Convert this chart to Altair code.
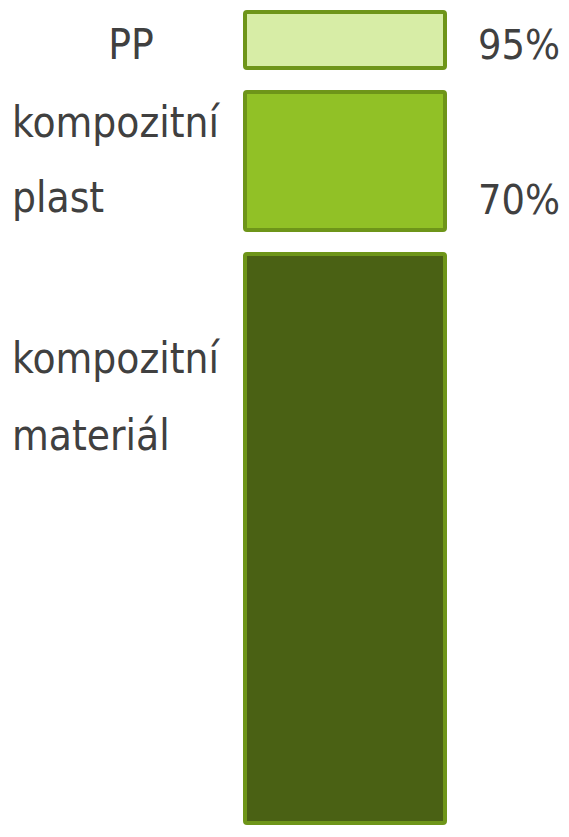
import altair as alt
import pandas as pd

# Segments of the column (values on a 0..817 vertical scale, 0 = top)
segments = ["PP", "kompozitní plast", "kompozitní materiál"]
seg_top = [4, 84, 246]
seg_bottom = [60, 222, 815]
seg_fill = ["#d7eda6", "#91c126", "#4a6114"]

# Left-hand labels
left_text = ["kompozitní", "plast", "kompozitní", "materiál"]
left_y = [129, 204, 365, 442]
pp_text = ["PP"]
pp_y = [51]

# Right-hand percentages
pct_text = ["95%", "70%"]
pct_y = [51, 206]

H = 817
W = 553
FONT = "DejaVu Sans Condensed"
TEXT_COLOR = "#404040"

yscale = alt.Scale(domain=[0, H], range=[0, H], nice=False, zero=False, padding=0)

seg_df = pd.DataFrame({"seg": segments, "top": seg_top, "bottom": seg_bottom})
left_df = pd.DataFrame({"t": left_text, "y": left_y})
pp_df = pd.DataFrame({"t": pp_text, "y": pp_y})
pct_df = pd.DataFrame({"t": pct_text, "y": pct_y})

bars = alt.Chart(seg_df).mark_rect(
    stroke="#6e9519", strokeWidth=4, cornerRadius=2
).encode(
    x=alt.value(237),
    x2=alt.value(437),
    y=alt.Y("top:Q", scale=yscale, axis=None),
    y2="bottom:Q",
    fill=alt.Fill("seg:N", scale=alt.Scale(domain=segments, range=seg_fill), legend=None),
)

left = alt.Chart(left_df).mark_text(
    align="left", baseline="alphabetic", font=FONT, fontSize=42, color=TEXT_COLOR
).encode(x=alt.value(4), y=alt.Y("y:Q", scale=yscale, axis=None), text="t:N")

pp = alt.Chart(pp_df).mark_text(
    align="center", baseline="alphabetic", font=FONT, fontSize=42, color=TEXT_COLOR
).encode(x=alt.value(123), y=alt.Y("y:Q", scale=yscale, axis=None), text="t:N")

pct = alt.Chart(pct_df).mark_text(
    align="right", baseline="alphabetic", font=FONT, fontSize=41, color=TEXT_COLOR
).encode(x=alt.value(552), y=alt.Y("y:Q", scale=yscale, axis=None), text="t:N")

chart = alt.layer(bars, left, pp, pct).properties(
    width=W, height=H, autosize=alt.AutoSizeParams(type="none"), padding=0
).configure_view(stroke=None)

chart.save("out.html", embed_options={"renderer": "svg", "actions": False})
